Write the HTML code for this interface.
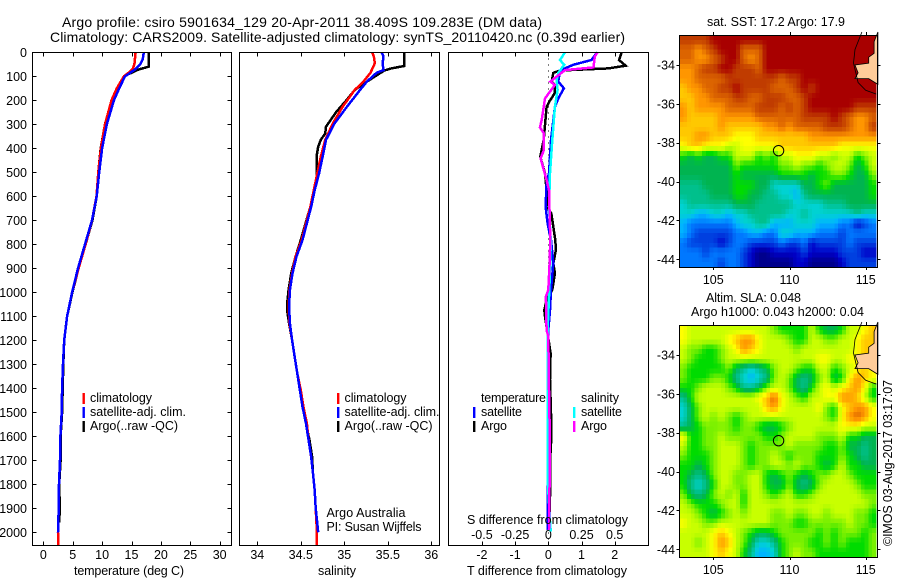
<!DOCTYPE html>
<html lang="en">
<head>
<meta charset="utf-8">
<title>Argo profile csiro 5901634_129</title>
<style>
html,body{margin:0;padding:0;background:#fff;}
svg{display:block;}
text{font-family:"Liberation Sans",sans-serif;font-size:12.5px;fill:#000;}
.title{font-size:14px;}
</style>
</head>
<body>
<svg id="chart" xmlns="http://www.w3.org/2000/svg" width="900" height="580" viewBox="0 0 900 580">
<rect x="0" y="0" width="900" height="580" fill="#fff"/>
<text class="title" x="62" y="27" textLength="480">Argo profile: csiro 5901634_129 20-Apr-2011 38.409S 109.283E (DM data)</text>
<text class="title" x="50" y="42" textLength="575">Climatology: CARS2009. Satellite-adjusted climatology: synTS_20110420.nc (0.39d earlier)</text>

<g id="marks"></g>

<text x="74" y="575" textLength="110">temperature (deg C)</text>
<text x="318" y="575" textLength="38">salinity</text>
<text x="467" y="575" textLength="160">T difference from climatology</text>
<text x="467" y="524" textLength="161">S difference from climatology</text>

<g>
<rect x="82.5" y="393" width="2.4" height="11" fill="#ff0000"/>
<rect x="82.5" y="407" width="2.4" height="11" fill="#0000ff"/>
<rect x="82.5" y="421" width="2.4" height="11" fill="#000000"/>
<text x="90" y="402" textLength="62">climatology</text>
<text x="90" y="416" textLength="96">satellite-adj. clim.</text>
<text x="90" y="430" textLength="88">Argo(..raw -QC)</text>
</g>
<g>
<rect x="337" y="393" width="2.4" height="11" fill="#ff0000"/>
<rect x="337" y="407" width="2.4" height="11" fill="#0000ff"/>
<rect x="337" y="421" width="2.4" height="11" fill="#000000"/>
<text x="344.5" y="402" textLength="62">climatology</text>
<text x="344.5" y="416" textLength="95">satellite-adj. clim.</text>
<text x="344.5" y="430" textLength="88">Argo(..raw -QC)</text>
</g>
<text x="326.5" y="517" textLength="79">Argo Australia</text>
<text x="326.5" y="531" textLength="95">PI: Susan Wijffels</text>
<g>
<text x="481" y="402" textLength="65">temperature</text>
<text x="581" y="402" textLength="38">salinity</text>
<rect x="473" y="407" width="2.4" height="11" fill="#0000ff"/>
<rect x="473" y="421" width="2.4" height="11" fill="#000000"/>
<rect x="573" y="407" width="2.4" height="11" fill="#00ffff"/>
<rect x="573" y="421" width="2.4" height="11" fill="#ff00ff"/>
<text x="481" y="416" textLength="41">satellite</text>
<text x="481" y="430" textLength="26">Argo</text>
<text x="581" y="416" textLength="41">satellite</text>
<text x="581" y="430" textLength="26">Argo</text>
</g>
<text x="707" y="26" textLength="138">sat. SST: 17.2 Argo: 17.9</text>
<text x="706" y="302" textLength="95">Altim. SLA: 0.048</text>
<text x="691" y="316" textLength="173">Argo h1000: 0.043 h2000: 0.04</text>
<text transform="translate(892,546) rotate(-90)" textLength="166" x="0" y="0">©IMOS 03-Aug-2017 03:17:07</text>
</svg>

<script>
// ---- Profile data (depth in dbar) ----
const depthTicks = [0,100,200,300,400,500,600,700,800,900,1000,1100,1200,1300,1400,1500,1600,1700,1800,1900,2000];
const tempTicks = [0,5,10,15,20,25,30];
const salTicks = [34,34.5,35,35.5,36];
const tDiffTicks = [-2,-1,0,1,2];
const sDiffTicks = [-0.5,-0.25,0,0.25,0.5];
const lonTicks = [105,110,115];
const latTicks = [-34,-36,-38,-40,-42,-44];

const tempClimDepth = [0,50,70,85,100,150,200,300,400,500,600,700,800,900,1000,1100,1200,1300,1400,1500,1600,1700,1800,1900,2000,2054];
const tempClim = [15.7,15.5,15.2,14.5,13.7,12.5,11.6,10.5,9.8,9.35,9.05,8.28,7.2,6.0,4.9,4.05,3.55,3.35,3.2,3.13,2.9,2.84,2.67,2.62,2.5,2.5];
const tempSatDepth = [0,30,50,70,90,100,150,200,300,400,500,600,700,800,900,1000,1100,1200,1300,1400,1500,1600,1700,1800,1900,2000];
const tempSat = [17.1,16.9,16.5,15.7,14.5,13.9,12.9,12.0,10.8,10.0,9.5,9.08,8.28,7.1,5.9,4.9,4.05,3.55,3.35,3.2,3.13,2.9,2.84,2.67,2.62,2.5];
const tempArgoDepth = [0,60,72,100,200,300,400,500,600,700,800,900,1000,1100,1200,1300,1400,1500,1600,1700,1800,1900,1960];
const tempArgo = [17.9,17.9,16.15,13.7,11.6,10.5,9.76,9.35,9.08,8.35,7.2,6.0,4.95,4.05,3.55,3.4,3.3,3.2,2.95,2.95,2.7,2.8,2.7];

const salClimDepth = [0,18,46,86,122,157,227,295,365,435,504,574,643,782,851,921,990,1060,1130,1199,1269,1338,1408,1477,1547,1616,1686,1755,1825,1894,1964,2054];
const salClim = [35.32,35.34,35.35,35.30,35.22,35.12,34.98,34.87,34.78,34.73,34.69,34.65,34.61,34.51,34.44,34.40,34.37,34.36,34.37,34.40,34.43,34.46,34.50,34.53,34.57,34.59,34.62,34.64,34.66,34.67,34.68,34.68];
const salSatDepth = [0,18,46,74,86,122,157,227,295,365,435,504,574,643,782,851,921,990,1060,1130,1199,1269,1338,1408,1477,1547,1616,1686,1755,1825,1894,1964,2000];
const salSat = [35.43,35.45,35.44,35.45,35.37,35.26,35.18,35.03,34.89,34.79,34.75,34.71,34.66,34.62,34.52,34.45,34.405,34.375,34.365,34.375,34.40,34.43,34.46,34.49,34.52,34.56,34.59,34.62,34.64,34.66,34.67,34.69,34.70];
const salArgoDepth = [0,57,67,76,122,157,206,247,310,338,365,393,435,532,643,782,851,921,990,1040,1080,1130,1199,1269,1338,1408,1477,1547,1616,1686,1755,1825,1894,1964];
const salArgo = [35.69,35.69,35.54,35.46,35.26,35.12,35.01,34.91,34.79,34.78,34.73,34.70,34.68,34.68,34.61,34.50,34.44,34.39,34.36,34.345,34.345,34.365,34.40,34.43,34.46,34.49,34.52,34.56,34.60,34.63,34.64,34.66,34.67,34.68];

const dTempArgoDepth = [0,32,56,67,76,86,122,136,171,206,227,365,435,504,574,643,671,782,824,879,921,990,1032,1074,1101,1171,1254,1365,1504,1629,1712,1851,1990];
const dTempArgo = [2.21,2.13,2.33,1.81,0.35,0.15,0.1,0.2,0.19,0.03,-0.05,-0.14,-0.24,-0.1,-0.05,-0.05,0.09,0.21,0.23,0.15,0.2,0.12,-0.05,-0.12,-0.1,-0.02,0.07,0.05,0.08,0.08,0.05,0.05,0.02];
const dTempSatDepth = [0,32,52,76,122,150,192,227,365,504,545,643,713,782,879,990,1074,1157,1435,1796,1990];
const dTempSat = [1.47,1.3,0.75,0.35,0.3,0.47,0.3,0.2,0.08,0.02,-0.05,-0.08,-0.02,0.08,0.15,0.08,0.05,0,0,-0.02,-0.02];
const dSalSatDepth = [0,32,52,86,115,157,227,365,504,643,782,879,1018,1157,1435,1796,1976,1997];
const dSalSat = [0.126,0.088,0.12,0.075,0.063,0.07,0.05,0.03,0.013,0.005,0.018,0.015,0.005,-0.005,-0.005,-0.003,0.015,0.02];
const dSalArgoDepth = [0,18,63,74,122,136,192,282,313,338,407,442,483,532,574,782,879,990,1018,1157,1185,1407,1643,1851,1990];
const dSalArgo = [0.37,0.35,0.34,0.126,0.015,0.05,-0.025,-0.05,-0.063,-0.033,-0.033,-0.058,-0.038,-0.013,0.005,0.015,0.01,0,-0.018,-0.013,0,0.005,0.013,0.008,0.005];

// ---- Map data: colour level per cell (0 = coldest/lowest, 16 = warmest/highest) ----
const sstLevels = [
[15,15,15,15,16,16,16,16,16,16,16,16,16,16,16,16,16,16,16,16,16,16,16,16,16,16],
[14,14,13,14,15,16,16,16,14,14,14,16,16,16,16,16,16,16,16,16,16,16,16,16,16,16],
[14,14,13,13,14,15,16,16,14,13,14,16,16,16,16,16,16,16,16,16,16,16,16,16,16,16],
[13,13,14,15,15,16,16,15,15,15,14,16,16,16,16,16,16,16,16,16,16,16,16,16,16,16],
[13,13,14,14,14,14,15,15,15,15,15,15,15,14,15,15,16,16,16,16,16,16,16,16,16,16],
[12,13,13,14,14,15,15,16,15,15,15,15,14,14,14,15,16,15,16,16,16,16,16,16,16,16],
[12,12,13,13,14,14,14,15,15,14,14,15,15,15,14,14,15,16,16,16,16,16,16,16,16,16],
[13,12,13,13,13,13,14,14,14,14,15,15,15,14,15,14,15,16,16,16,16,16,16,15,15,15],
[13,12,12,12,12,13,13,13,13,13,14,14,14,14,14,14,15,15,15,15,16,15,14,13,13,14],
[12,12,12,12,12,13,12,12,12,12,12,13,13,14,13,14,14,14,14,15,15,15,14,13,13,15],
[12,12,13,13,12,12,12,11,11,11,12,12,12,12,12,12,12,13,13,13,13,13,13,13,13,13],
[11,12,12,11,11,11,10,10,11,11,11,11,11,12,12,12,12,12,12,12,12,11,11,11,11,11],
[8,7,8,7,7,8,8,10,10,10,8,9,8,10,10,11,11,11,10,10,9,10,10,8,9,10],
[7,7,7,7,7,7,7,9,8,8,8,8,8,9,9,10,9,9,8,9,10,10,9,7,8,10],
[7,7,7,7,7,7,7,8,7,7,7,7,7,8,8,8,8,7,8,8,9,9,8,7,7,9],
[6,6,6,7,7,7,7,8,8,8,7,7,5,5,5,5,7,7,8,9,7,7,7,7,7,8],
[6,6,6,6,7,7,7,8,8,7,7,6,6,5,5,4,6,7,7,7,7,7,7,7,7,8],
[5,6,6,6,6,6,6,7,7,7,6,6,6,6,6,5,5,5,5,6,6,6,7,7,7,7],
[5,5,4,4,5,5,4,5,5,6,6,6,6,6,5,5,6,5,5,5,5,5,5,6,5,5],
[4,3,3,3,3,3,3,4,5,5,6,6,4,4,4,5,5,5,4,4,4,3,3,1,2,3],
[4,3,2,2,2,2,2,3,3,4,4,3,3,5,5,4,4,4,3,3,3,2,3,3,3,3],
[3,2,2,2,2,1,2,3,3,2,2,2,2,3,2,2,3,1,2,2,2,2,3,2,2,2],
[3,3,3,2,3,3,3,3,2,1,0,0,1,1,1,1,2,1,1,1,1,2,2,2,1,1],
[3,3,3,3,3,2,3,3,2,1,0,0,0,0,0,1,1,0,0,0,0,1,2,2,2,2]
];
const slaLevels = [
[11,10,10,10,10,10,10,10,10,10,10,10,9,8,8,8,8,10,8,7,7,8,10,10,11,12],
[11,10,10,10,10,10,11,12,13,13,11,10,10,10,9,8,8,10,10,9,9,10,10,11,12,12],
[10,9,9,8,8,9,10,11,13,12,11,10,10,10,10,9,10,10,10,10,10,10,10,11,12,12],
[10,9,8,8,8,9,10,10,10,10,10,10,10,10,10,10,10,10,11,11,10,10,11,11,12,12],
[9,8,8,8,8,8,9,7,6,5,6,7,9,10,10,9,8,8,10,10,8,9,10,11,12,11],
[9,8,8,8,9,9,8,6,5,4,5,6,9,10,9,7,6,7,9,10,7,8,11,13,12,11],
[8,8,9,10,10,10,9,8,6,6,7,9,10,10,9,7,6,8,10,11,10,11,12,13,11,8],
[6,8,10,10,10,10,10,10,10,10,11,12,14,11,10,9,8,10,10,11,11,13,13,12,10,8],
[5,7,9,10,10,10,10,10,10,10,10,12,13,11,10,10,10,10,11,9,8,11,12,13,13,11],
[5,7,9,10,9,10,9,8,9,10,10,10,10,10,10,10,10,10,10,9,8,11,13,14,13,11],
[6,7,8,9,9,9,9,8,9,9,8,7,7,8,9,10,10,10,10,10,10,11,11,11,10,10],
[11,8,8,9,9,10,9,9,9,9,9,8,8,9,10,10,10,10,9,9,9,10,8,8,7,7],
[10,8,8,9,9,10,10,10,9,8,9,9,9,9,10,9,9,9,9,8,8,9,7,7,6,7],
[9,8,8,8,9,10,10,10,9,8,9,9,10,9,8,9,9,9,8,8,8,9,8,7,6,7],
[8,8,7,8,9,10,10,10,9,8,9,9,10,10,9,10,9,9,8,7,8,10,8,8,7,7],
[8,7,6,7,9,10,10,9,9,10,10,8,7,8,9,8,7,8,9,9,10,10,9,8,8,8],
[8,6,5,6,8,10,10,9,9,10,10,8,7,7,9,7,6,7,9,10,10,10,10,9,8,8],
[9,7,6,7,9,10,9,10,8,10,10,9,8,9,10,8,8,9,10,10,10,10,10,10,9,9],
[10,9,8,8,8,9,10,10,8,10,10,10,10,10,10,10,10,10,10,10,10,10,10,10,10,9],
[10,10,9,8,7,8,9,10,9,10,10,10,9,9,10,9,9,10,10,9,10,10,10,9,9,8],
[11,10,10,9,9,10,10,10,10,10,10,10,9,9,9,8,8,9,9,9,9,9,10,9,9,8],
[10,10,10,10,11,12,11,10,9,8,7,7,8,9,9,9,9,9,8,9,8,9,9,9,8,9],
[10,10,9,10,11,13,12,10,9,7,5,5,6,8,9,9,9,8,8,9,8,9,8,8,8,9],
[10,10,10,10,11,12,11,10,8,6,4,4,5,8,9,10,9,9,8,8,8,8,8,8,8,9]
];
const colorLevels = ['#00008c','#0000c8','#0040e0','#0078ff','#00b4ff','#00d2d2','#00c08c','#00b450','#00dc00','#78f000','#c8ff00','#ffff00','#ffc800','#ff9600','#dc6400','#c03c00','#a80000'];
const floatLon = [109.283];
const floatLat = [-38.409];
const landLon = [115.8,115.55,115.55,115.2,115.2,114.3,114.5,114.3,115.2,115.8];
const landLat = [-32.3,-32.8,-33.4,-33.6,-33.9,-34.0,-34.4,-34.7,-34.7,-35.0];
const contourLon = [114.75,114.3,114.2,114.5,115.0,115.7];
const contourLat = [-32.3,-33.2,-33.9,-34.9,-35.3,-35.5];

const NS = 'http://www.w3.org/2000/svg';
const marks = document.getElementById('marks');

function mk(tag, attrs, parent) {
  const el = document.createElementNS(NS, tag);
  for (const k in attrs) el.setAttribute(k, attrs[k]);
  (parent || marks).appendChild(el);
  return el;
}

// ---- axis functions ----
const yDepth = d => 52.3 + d * 0.24;
const xTemp = t => 43.3 + t * 5.88;
const xSal = s => 257.3 + (s - 34) * 87;
const xDT = t => 548.3 + t * 33.2;
const xDS = s => 548.3 + s * 132.8;
const xLon = l => 713.3 + (l - 105) * 15.24;
const ySst = l => 65 + (-34 - l) * 19.43;
const ySla = l => 355 + (-34 - l) * 19.43;

function levelColor(v) {
  const i = Math.max(0, Math.min(colorLevels.length - 2, Math.floor(v)));
  const f = Math.max(0, Math.min(1, v - i));
  const a = parseInt(colorLevels[i].slice(1), 16);
  const b = parseInt(colorLevels[i + 1].slice(1), 16);
  const ch = s => Math.round(((a >> s) & 255) * (1 - f) + ((b >> s) & 255) * f);
  return 'rgb(' + ch(16) + ',' + ch(8) + ',' + ch(0) + ')';
}

function sampleLevel(levels, r, c) {
  const rows = levels.length, cols = levels[0].length;
  const rr = Math.max(0, Math.min(rows - 1, r));
  const cc = Math.max(0, Math.min(cols - 1, c));
  const r0 = Math.floor(rr), c0 = Math.floor(cc);
  const r1 = Math.min(rows - 1, r0 + 1), c1 = Math.min(cols - 1, c0 + 1);
  const fr = rr - r0, fc = cc - c0;
  return (levels[r0][c0] * (1 - fc) + levels[r0][c1] * fc) * (1 - fr) + (levels[r1][c0] * (1 - fc) + levels[r1][c1] * fc) * fr;
}

function drawProfile(depths, values, xFn, color, width, name) {
  const pts = depths.map((d, i) => xFn(values[i]).toFixed(1) + ',' + yDepth(d).toFixed(1)).join(' ');
  const line = mk('polyline', {points: pts, fill: 'none', stroke: color, 'stroke-width': width, 'stroke-linejoin': 'miter', 'shape-rendering': 'crispEdges'});
  
  
}

function drawFrame(x0, x1, y0, y1, name) {
  const f = mk('rect', {x: x0, y: y0, width: x1 - x0, height: y1 - y0, fill: 'none', stroke: '#000', 'stroke-width': 1, 'shape-rendering': 'crispEdges'});
  
  
}

function tick(x1, y1, x2, y2) {
  const t = mk('line', {x1: x1, y1: y1, x2: x2, y2: y2, stroke: '#000', 'stroke-width': 1, 'shape-rendering': 'crispEdges'});
  
  
}

function label(x, y, str, anchor, name) {
  const t = mk('text', {x: x, y: y, 'text-anchor': anchor});
  t.textContent = str;
  
  
}

function xAxis(x0, vals, xFn, top, bottom, name) {
  vals.forEach(v => {
    const x = Math.round(xFn(v)) + 0.5;
    tick(x, top, x, top + 4);
    tick(x, bottom, x, bottom - 4);
    label(xFn(v), 559, String(v), 'middle', name);
  });
}

// panel frames
const L1 = 32.5, R1 = 231.5, L2 = 239.5, R2 = 439.5, L3 = 448.5, R3 = 648.5, T = 52.5, B = 545.5;

// depth axis ticks and labels
depthTicks.forEach(d => {
  const y = Math.round(yDepth(d)) + 0.5;
  tick(L1, y, L1 + 4, y);
  tick(R1, y, R1 - 4, y);
  label(27, yDepth(d) + 4.5, String(d), 'end', 'depth-tick-label');
});
xAxis(L1, tempTicks, xTemp, T, B, 'temperature-tick-label');
xAxis(L2, salTicks, xSal, T, B, 'salinity-tick-label');
tDiffTicks.forEach(v => {
  const x = Math.round(xDT(v)) + 0.5;
  tick(x, T, x, T + 4);
  tick(x, B, x, B - 4);
  label(xDT(v), 559, String(v), 'middle', 't-difference-tick-label');
});
sDiffTicks.forEach(v => {
  label(xDS(v), 539, String(v), 'middle', 's-difference-tick-label');
});

// zero line of difference panel
const zeroLine = mk('line', {x1: xDT(0), y1: T, x2: xDT(0), y2: B, stroke: '#000', 'stroke-width': 1, 'stroke-dasharray': '1 5', 'shape-rendering': 'crispEdges'});



// series
const lineWidth = 2.5;
drawProfile(tempArgoDepth, tempArgo, xTemp, '#000000', lineWidth, 'temperature-argo-line');
drawProfile(tempClimDepth, tempClim, xTemp, '#ff0000', lineWidth, 'temperature-climatology-line');
drawProfile(tempSatDepth, tempSat, xTemp, '#0000ff', lineWidth, 'temperature-satellite-line');
drawProfile(salArgoDepth, salArgo, xSal, '#000000', lineWidth, 'salinity-argo-line');
drawProfile(salClimDepth, salClim, xSal, '#ff0000', lineWidth, 'salinity-climatology-line');
drawProfile(salSatDepth, salSat, xSal, '#0000ff', lineWidth, 'salinity-satellite-line');
drawProfile(dTempArgoDepth, dTempArgo, xDT, '#000000', lineWidth, 't-difference-argo-line');
drawProfile(dTempSatDepth, dTempSat, xDT, '#0000ff', lineWidth, 't-difference-satellite-line');
drawProfile(dSalSatDepth, dSalSat, xDS, '#00ffff', lineWidth, 's-difference-satellite-line');
drawProfile(dSalArgoDepth, dSalArgo, xDS, '#ff00ff', lineWidth, 's-difference-argo-line');

drawFrame(L1, R1, T, B, 'temperature-panel-frame');
drawFrame(L2, R2, T, B, 'salinity-panel-frame');
drawFrame(L3, R3, T, B, 'difference-panel-frame');

// maps: each level cell is drawn as 2x2 display cells shaded toward its neighbours
function drawMap(levels, top, yFn, prefix) {
  const left = 679.5, right = 877.5, bottom = top + 232;
  const cols = levels[0].length * 2, rows = levels.length * 2;
  const cw = (876 - left) / cols, ch = (bottom - top) / rows;
  for (let r = 0; r < rows; r++) {
    for (let c = 0; c < cols; c++) {
      const v = sampleLevel(levels, (r + 0.5) / 2 - 0.5, (c + 0.5) / 2 - 0.5);
      const cell = mk('rect', {x: (left + c * cw).toFixed(2), y: (top + r * ch).toFixed(2), width: (cw + 0.3).toFixed(2), height: (ch + 0.3).toFixed(2), fill: levelColor(v), 'shape-rendering': 'crispEdges'});
      
      
    }
  }
  const landPts = landLon.map((l, i) => xLon(l).toFixed(1) + ',' + yFn(landLat[i]).toFixed(1)).join(' ');
  const land = mk('polygon', {points: landPts, fill: '#ffcc99', stroke: '#000', 'stroke-width': 0.8});
  
  
  const contourPts = contourLon.map((l, i) => xLon(l).toFixed(1) + ',' + yFn(contourLat[i]).toFixed(1)).join(' ');
  const contour = mk('polyline', {points: contourPts, fill: 'none', stroke: '#000', 'stroke-width': 0.8});
  
  
  const marker = mk('circle', {cx: xLon(floatLon[0]), cy: yFn(floatLat[0]), r: 5.2, fill: 'none', stroke: '#000', 'stroke-width': 1});
  
  
  lonTicks.forEach(v => {
    const x = Math.round(xLon(v)) + 0.5;
    tick(x, top, x, top - 3);
    tick(x, bottom, x, bottom + 3);
    label(xLon(v), bottom + 17, String(v), 'middle', prefix + '-lon-tick-label');
  });
  latTicks.forEach(v => {
    const y = Math.round(yFn(v)) + 0.5;
    tick(left, y, left - 3, y);
    tick(right, y, right + 3, y);
    label(675, yFn(v) + 4.5, '-' + Math.abs(v), 'end', prefix + '-lat-tick-label');
  });
  drawFrame(left, right, top + 0.5, bottom + 0.5, prefix + '-frame');
}
drawMap(sstLevels, 35, ySst, 'sst-map');
drawMap(slaLevels, 325, ySla, 'sla-map');
</script>
</body>
</html>
